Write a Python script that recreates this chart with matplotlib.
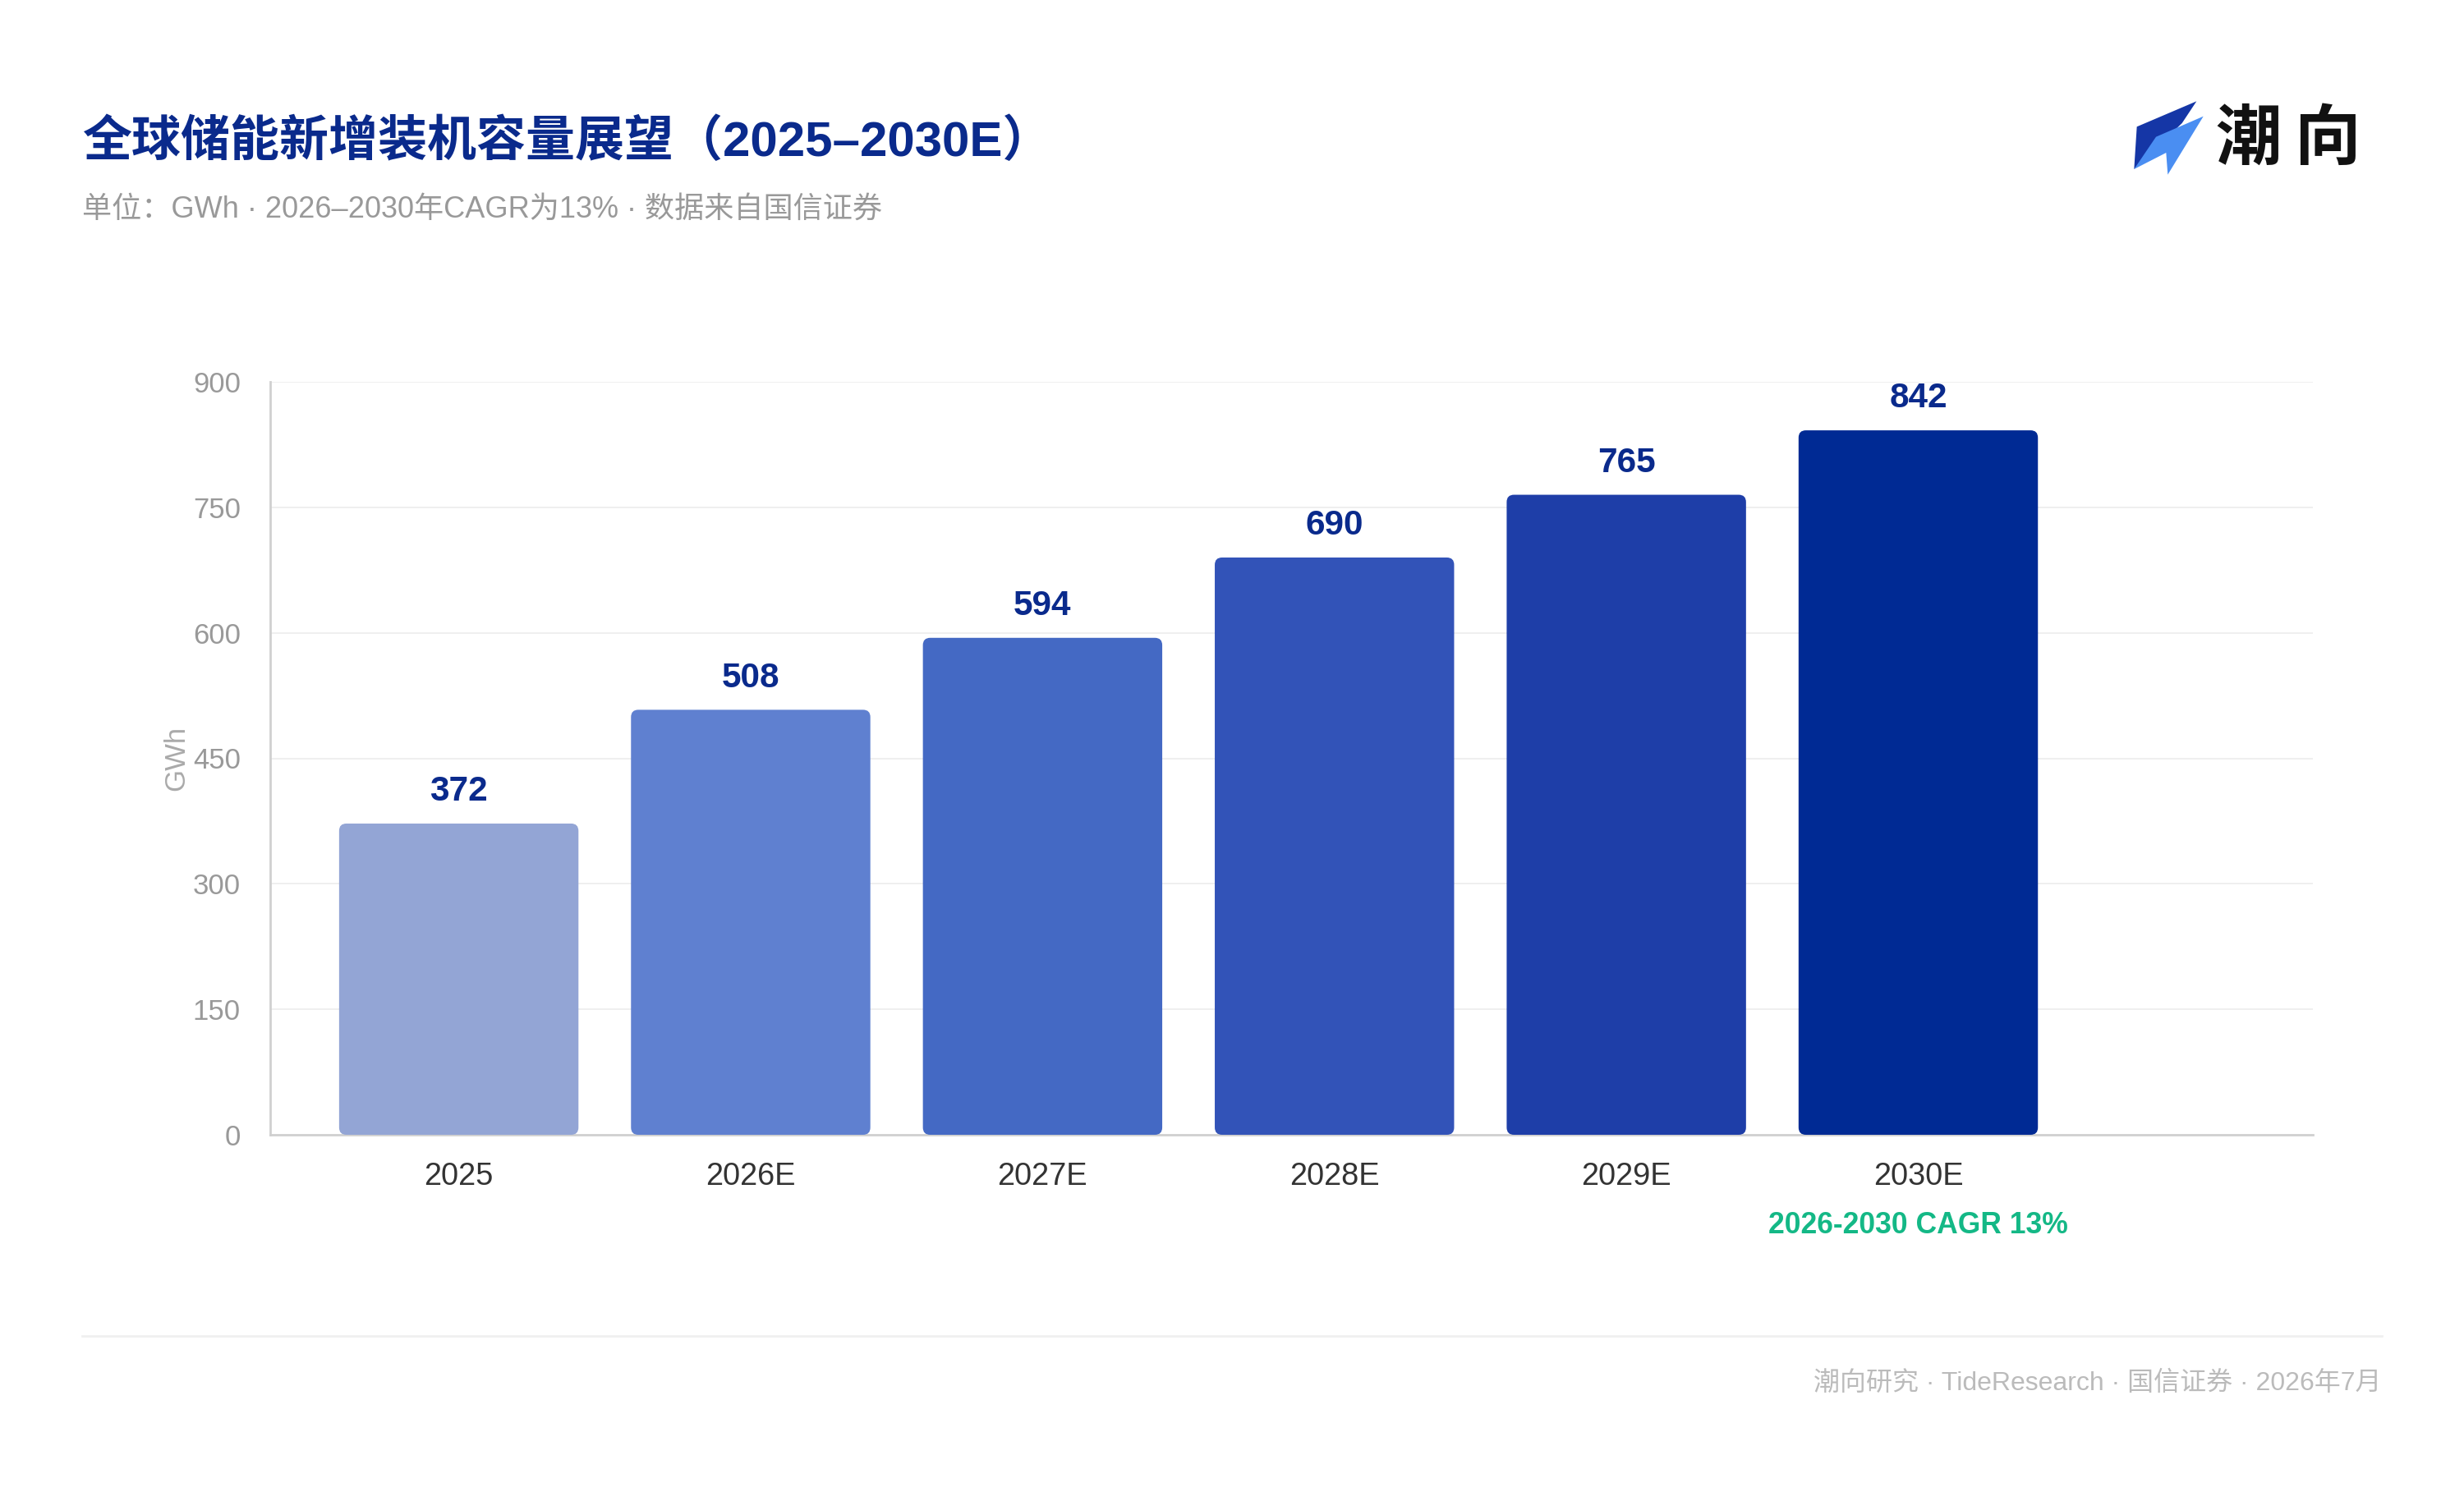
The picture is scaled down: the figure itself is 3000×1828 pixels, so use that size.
import matplotlib
matplotlib.use("Agg")
import matplotlib.pyplot as plt
from matplotlib.patches import FancyBboxPatch, Polygon

# data
years = ["2025", "2026E", "2027E", "2028E", "2029E", "2030E"]
capacity = [372, 508, 594, 690, 765, 842]
bar_colors = ["#93a5d5", "#5f80d0", "#4469c4", "#3253b8", "#1e3ea8", "#002a94"]
yticks = [0, 150, 300, 450, 600, 750, 900]

title = "全球储能新增装机容量展望（2025–2030E）"
subtitle = "单位：GWh · 2026–2030年CAGR为13% · 数据来自国信证券"
cagr_note = "2026-2030 CAGR 13%"
footer = "潮向研究 · TideResearch · 国信证券 · 2026年7月"

FONT = ["Liberation Sans", "Noto Sans CJK SC", "DejaVu Sans"]
plt.rcParams["font.family"] = FONT

W, H = 3000, 1828
fig = plt.figure(figsize=(15, 9.14), dpi=200)
fig.patch.set_facecolor("white")

def px(x, y):
    return (x / W, 1 - y / H)

ax = fig.add_axes([329 / W, 1 - 1382 / H, (2816 - 329) / W, (1382 - 465) / H])
x = list(range(len(years)))
bars = ax.bar(x, capacity, width=0.82, color=bar_colors, zorder=3)

# swap plain rectangles for rounded ones
for rect, c in zip(bars, bar_colors):
    rx, ry = rect.get_x(), rect.get_y()
    rw, rh = rect.get_width(), rect.get_height()
    rect.set_visible(False)
    ax.add_patch(FancyBboxPatch((rx, ry), rw, rh,
                                boxstyle="round,pad=0,rounding_size=0.025",
                                mutation_aspect=348, facecolor=c,
                                edgecolor="none", zorder=3))

for xi, v in zip(x, capacity):
    ax.annotate(str(v), (xi, v), xytext=(0, 10), textcoords="offset points",
                ha="center", va="baseline", fontsize=15.2, fontweight="bold",
                color="#0a2a8c", zorder=4)

ax.set_xlim(-0.646, 6.352)
ax.set_ylim(0, 900)
ax.set_yticks(yticks)
ax.set_xticks(x)
ax.set_xticklabels(years)
ax.tick_params(axis="y", length=0, pad=13, labelsize=12.5, labelcolor="#999999")
ax.tick_params(axis="x", length=0, pad=12, labelsize=13.7, labelcolor="#333333")
ax.grid(axis="y", color="#efefef", linewidth=0.7, zorder=0)
for s in ["top", "right"]:
    ax.spines[s].set_visible(False)
for s in ["left", "bottom"]:
    ax.spines[s].set_color("#d0d0d0")
    ax.spines[s].set_linewidth(1.0)
ax.set_ylabel("GWh", fontsize=12.5, color="#aaaaaa")
ax.yaxis.set_label_coords((231 - 329) / (2816 - 329), 0.5)

ax.text(5, -0.121, cagr_note, transform=ax.get_xaxis_transform(),
        ha="center", va="center", fontsize=12.8, fontweight="bold",
        color="#14b886")

# header
fig.text(*px(100, 173), title, ha="left", va="center", fontsize=21.6,
         fontweight="bold", color="#0a2a8c")
fig.text(*px(100, 255), subtitle, ha="left", va="center", fontsize=13,
         color="#999999")

# logo
def zp(zx, zy):
    return px(2550 + zx / 3, 100 + zy / 3)

dark = [zp(155, 163), zp(373, 70), zp(320, 150), zp(145, 318)]
light = [zp(225, 200), zp(398, 125), zp(268, 338), zp(262, 258), zp(145, 318)]
fig.patches.append(Polygon(dark, closed=True, transform=fig.transFigure,
                           facecolor="#1536a6", edgecolor="none"))
fig.patches.append(Polygon(light, closed=True, transform=fig.transFigure,
                           facecolor="#4a8ef2", edgecolor="none"))
for ch, cx in zip("潮向", [2738, 2833]):
    fig.text(*px(cx, 170), ch, ha="center", va="center", fontsize=29,
             fontweight="bold", color="#111111", family=["Noto Sans CJK SC"])

# footer
fig.add_artist(plt.Line2D([100 / W, 2900 / W], [1 - 1627 / H] * 2,
                          transform=fig.transFigure, color="#f0f0f0",
                          linewidth=1.0))
fig.text(*px(2900, 1685), footer, ha="right", va="center", fontsize=11.5,
         color="#bbbbbb")

fig.savefig("out.png", dpi=200, facecolor="white")
